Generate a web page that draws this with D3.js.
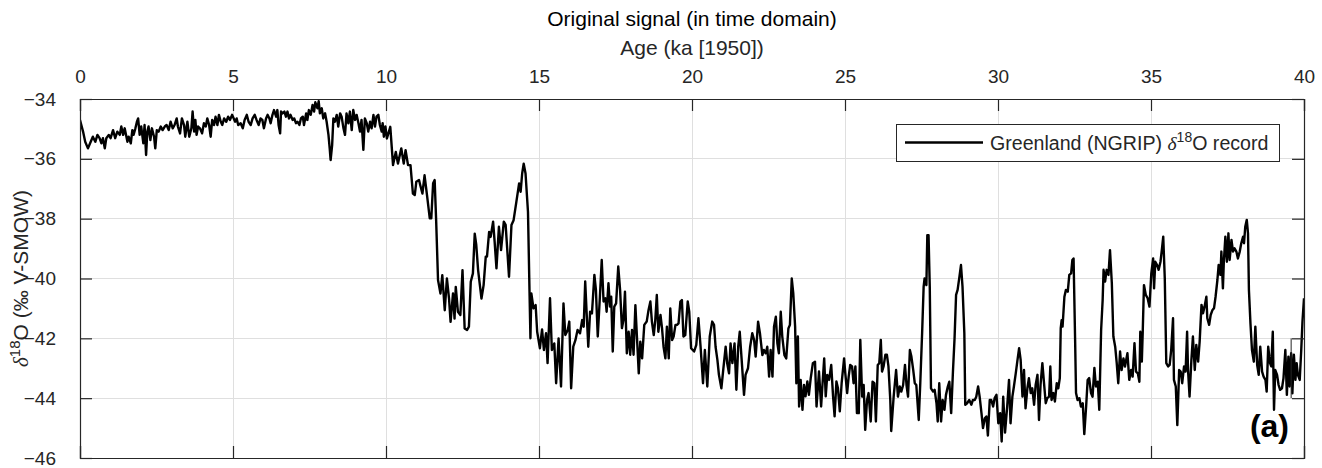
<!DOCTYPE html>
<html>
<head>
<meta charset="utf-8">
<script src="https://cdn.jsdelivr.net/npm/d3@7"></script>
<style>
  html, body { margin: 0; padding: 0; background: #fff; }
  svg { display: block; font-family: "Liberation Sans", Arial, Helvetica, sans-serif; }
</style>
</head>
<body>
<svg id="chart" width="1322" height="468"></svg>
<script>
// === 1. data ===========================================
// NGRIP δ18O, age in ka [1950]
const ageKa = [
  // 0 - 5 ka
  0.00,0.10,0.17,0.26,0.35,0.42,0.50,0.57,0.64,0.70,
  0.75,0.81,0.86,0.94,1.00,1.08,1.15,1.22,1.30,1.35,
  1.41,1.46,1.55,1.59,1.66,1.71,1.75,1.81,1.86,1.90,
  1.95,2.00,2.07,2.11,2.16,2.20,2.24,2.30,2.35,2.42,
  2.46,2.51,2.57,2.64,2.70,2.77,2.83,2.90,2.96,3.03,
  3.09,3.16,3.20,3.27,3.33,3.40,3.44,3.51,3.57,3.64,
  3.68,3.73,3.77,3.81,3.86,3.92,3.99,4.05,4.11,4.16,
  4.22,4.27,4.32,4.38,4.43,4.49,4.54,4.60,4.65,4.71,
  4.78,4.84,4.90,4.97,
  // 5 - 10 ka
  5.07,5.12,5.17,5.25,5.32,5.38,5.45,5.51,5.58,5.64,
  5.71,5.77,5.84,5.90,5.96,6.01,6.08,6.13,6.19,6.23,
  6.29,6.34,6.41,6.45,6.49,6.54,6.57,6.62,6.68,6.73,
  6.78,6.83,6.88,6.95,7.00,7.06,7.11,7.17,7.22,7.28,
  7.32,7.39,7.43,7.48,7.54,7.60,7.65,7.69,7.76,7.80,
  7.84,7.90,7.95,8.01,8.06,8.12,8.16,8.19,8.24,8.28,
  8.33,8.39,8.44,8.50,8.55,8.61,8.66,8.71,8.77,8.82,
  8.88,8.93,8.99,9.04,9.10,9.15,9.20,9.26,9.31,9.37,
  9.42,9.48,9.53,9.59,9.64,9.69,9.75,9.80,9.86,9.89,
  9.93,9.98,
  // 10 - 15 ka
  10.03,10.14,10.23,10.32,10.39,10.50,10.58,10.64,10.72,10.80,
  10.88,10.94,10.99,11.08,11.12,11.19,11.26,11.34,11.43,11.48,
  11.54,11.59,11.64,11.70,11.78,11.84,11.92,11.99,12.06,12.11,
  12.19,12.24,12.28,12.35,12.43,12.50,12.57,12.65,12.71,12.77,
  12.84,12.90,12.95,13.01,13.12,13.19,13.26,13.30,13.37,13.42,
  13.50,13.55,13.61,13.69,13.76,13.85,13.91,14.02,14.10,14.17,
  14.26,14.35,14.40,14.45,14.50,14.56,14.64,14.69,14.72,14.75,
  14.82,14.89,14.94,
  // 15 - 20 ka
  15.03,15.10,15.16,15.23,15.28,15.36,15.42,15.50,15.56,15.64,
  15.72,15.80,15.86,15.94,15.99,16.05,16.12,16.19,16.26,16.34,
  16.41,16.46,16.51,16.56,16.61,16.67,16.73,16.81,16.86,16.92,
  16.99,17.05,17.11,17.17,17.21,17.27,17.32,17.36,17.41,17.46,
  17.52,17.59,17.65,17.71,17.76,17.81,17.87,17.93,17.98,18.04,
  18.09,18.15,18.20,18.26,18.31,18.37,18.44,18.52,18.58,18.64,
  18.69,18.75,18.80,18.85,18.90,18.97,19.02,19.07,19.13,19.18,
  19.24,19.29,19.35,19.40,19.46,19.51,19.56,19.62,19.67,19.72,
  19.78,19.86,19.91,19.97,
  // 20 - 25 ka
  20.07,20.14,20.21,20.28,20.36,20.42,20.50,20.58,20.66,20.72,
  20.77,20.83,20.88,20.96,21.02,21.10,21.15,21.21,21.26,21.32,
  21.39,21.45,21.51,21.56,21.62,21.70,21.75,21.83,21.90,21.97,
  22.03,22.08,22.16,22.22,22.30,22.35,22.41,22.46,22.52,22.57,
  22.63,22.68,22.74,22.79,22.84,22.90,22.95,23.02,23.08,23.15,
  23.20,23.26,23.31,23.37,23.41,23.46,23.50,23.55,23.61,23.66,
  23.71,23.77,23.82,23.88,23.95,24.02,24.07,24.15,24.22,24.26,
  24.32,24.37,24.42,24.48,24.55,24.61,24.66,24.72,24.77,24.83,
  24.89,24.97,
  // 25 - 30 ka
  25.01,25.07,25.12,25.17,25.23,25.28,25.34,25.39,25.45,25.50,
  25.56,25.61,25.66,25.72,25.77,25.84,25.90,25.96,26.01,26.07,
  26.12,26.17,26.21,26.26,26.32,26.37,26.42,26.48,26.51,26.59,
  26.67,26.73,26.79,26.84,26.90,26.96,27.01,27.06,27.12,27.17,
  27.23,27.28,27.33,27.41,27.46,27.52,27.57,27.60,27.66,27.69,
  27.73,27.77,27.81,27.88,27.93,27.99,28.03,28.08,28.14,28.19,
  28.25,28.30,28.36,28.41,28.47,28.53,28.58,28.63,28.68,28.74,
  28.79,28.84,28.90,28.93,28.99,29.06,29.13,29.18,29.24,29.29,
  29.35,29.40,29.46,29.51,29.57,29.62,29.67,29.73,29.78,29.84,
  29.89,29.95,
  // 30 - 35 ka
  30.01,30.07,30.12,30.17,30.23,30.30,30.36,30.41,30.47,30.52,
  30.58,30.63,30.69,30.74,30.80,30.85,30.90,30.96,31.01,31.07,
  31.12,31.18,31.23,31.29,31.34,31.39,31.45,31.50,31.56,31.61,
  31.67,31.71,31.75,31.81,31.86,31.92,31.97,32.02,32.05,32.08,
  32.11,32.17,32.22,32.28,32.33,32.39,32.43,32.47,32.52,32.55,
  32.60,32.66,32.71,32.77,32.82,32.88,32.93,32.98,33.04,33.09,
  33.15,33.20,33.26,33.31,33.37,33.42,33.45,33.50,33.55,33.61,
  33.66,33.72,33.77,33.83,33.88,33.93,33.99,34.04,34.10,34.15,
  34.23,34.29,34.35,34.40,34.46,34.51,34.57,34.62,34.65,34.70,
  34.73,34.77,34.83,34.89,34.95,
  // 35 - 40 ka
  35.01,35.07,35.10,35.14,35.20,35.25,35.31,35.36,35.40,35.45,
  35.50,35.56,35.61,35.66,35.72,35.75,35.81,35.86,35.92,35.97,
  36.02,36.08,36.13,36.18,36.21,36.26,36.32,36.37,36.43,36.48,
  36.54,36.59,36.65,36.70,36.75,36.81,36.84,36.90,36.95,37.01,
  37.06,37.11,37.17,37.21,37.27,37.30,37.35,37.38,37.43,37.48,
  37.53,37.57,37.63,37.68,37.73,37.79,37.84,37.90,37.95,38.01,
  38.04,38.08,38.13,38.17,38.20,38.25,38.30,38.36,38.41,38.47,
  38.52,38.57,38.63,38.68,38.74,38.78,38.83,38.89,38.93,38.98,
  39.02,39.06,39.12,39.17,39.22,39.28,39.33,39.39,39.44,39.49,
  39.53,39.58,39.62,39.67,39.72,39.76,39.80,39.86,39.91,39.95,
  40.00
];

const d18O = [
  // 0 - 5 ka
  -34.70,-35.09,-35.43,-35.65,-35.43,-35.26,-35.43,-35.20,-35.31,-35.48,
  -35.31,-35.65,-35.31,-35.20,-35.31,-35.04,-35.31,-35.09,-35.20,-34.92,
  -35.20,-34.98,-35.43,-35.26,-35.48,-35.04,-35.20,-34.98,-34.76,-34.65,
  -35.20,-34.92,-35.48,-34.87,-35.87,-35.09,-34.92,-35.37,-34.98,-35.26,
  -35.65,-35.04,-35.09,-34.92,-35.04,-34.92,-34.87,-35.04,-34.76,-34.98,
  -34.87,-34.65,-34.92,-35.15,-34.65,-34.87,-35.26,-34.76,-35.26,-34.98,
  -34.42,-35.09,-34.70,-35.20,-34.92,-34.98,-35.15,-34.81,-34.92,-34.65,
  -34.87,-35.26,-34.70,-34.87,-34.59,-34.87,-34.53,-34.76,-34.87,-34.65,
  -34.76,-34.59,-34.70,-34.53,
  // 5 - 10 ka
  -34.76,-34.65,-34.87,-34.81,-34.98,-34.70,-34.53,-34.76,-34.87,-34.65,
  -34.53,-34.70,-34.87,-34.65,-34.70,-34.98,-34.65,-34.53,-34.65,-34.81,
  -34.53,-34.37,-34.59,-34.37,-34.87,-35.15,-34.42,-34.48,-34.42,-34.59,
  -34.42,-34.65,-34.53,-34.70,-34.65,-34.81,-34.76,-34.87,-34.65,-34.59,
  -34.87,-34.48,-34.70,-34.37,-34.53,-34.20,-34.42,-34.11,-34.31,-34.07,
  -34.48,-34.31,-34.65,-34.48,-34.76,-35.20,-35.65,-36.04,-35.54,-34.65,
  -34.76,-34.53,-34.92,-34.48,-34.59,-34.98,-35.20,-34.48,-34.81,-34.42,
  -35.04,-34.37,-34.70,-34.53,-34.81,-35.09,-34.70,-35.70,-34.65,-34.81,
  -35.09,-34.76,-34.98,-34.53,-34.92,-34.59,-34.53,-34.87,-35.09,-34.81,
  -35.26,-34.92,
  // 10 - 15 ka
  -35.32,-34.93,-36.21,-35.77,-36.16,-35.65,-36.16,-35.71,-36.21,-36.21,
  -37.16,-37.21,-36.77,-36.71,-36.88,-37.16,-36.55,-37.21,-37.99,-37.99,
  -36.82,-36.71,-38.10,-40.05,-40.50,-39.89,-41.06,-40.00,-40.67,-41.45,
  -40.50,-41.34,-40.28,-41.11,-41.22,-39.72,-41.67,-41.72,-41.61,-40.11,
  -39.83,-38.50,-38.88,-39.72,-40.67,-40.22,-39.27,-39.27,-38.44,-38.61,
  -38.10,-38.77,-39.66,-38.27,-39.05,-38.10,-38.21,-39.94,-38.21,-38.05,
  -37.44,-36.82,-37.10,-36.49,-36.16,-36.49,-37.77,-40.44,-42.00,-40.50,
  -41.00,-40.89,-41.78,
  // 15 - 20 ka
  -42.33,-41.70,-42.39,-41.83,-42.83,-40.66,-42.39,-42.17,-43.50,-42.00,
  -43.61,-40.83,-41.89,-41.72,-41.44,-43.67,-42.28,-42.06,-41.72,-41.83,
  -41.39,-41.61,-40.10,-41.22,-42.28,-41.11,-41.17,-39.88,-40.38,-41.94,
  -40.61,-39.38,-40.77,-40.66,-41.11,-40.16,-40.94,-40.61,-42.44,-40.94,
  -40.83,-39.60,-40.38,-41.66,-41.39,-40.44,-42.50,-41.78,-42.55,-41.72,
  -42.55,-40.89,-41.94,-43.17,-42.11,-42.67,-41.55,-41.44,-41.05,-40.77,
  -41.44,-41.89,-41.39,-40.55,-41.78,-41.22,-41.66,-42.28,-42.67,-41.61,
  -42.67,-41.00,-42.06,-41.94,-41.55,-41.55,-41.50,-40.77,-40.72,-41.94,
  -41.89,-40.77,-41.11,-42.33,
  // 20 - 25 ka
  -42.44,-42.22,-41.33,-42.28,-43.50,-42.39,-43.61,-41.94,-41.44,-41.55,
  -42.28,-42.72,-43.22,-43.67,-43.06,-42.28,-42.83,-43.17,-42.17,-42.83,
  -42.17,-43.72,-42.28,-41.78,-42.67,-43.89,-43.22,-43.00,-42.28,-41.83,
  -42.06,-42.61,-41.44,-41.83,-42.56,-42.39,-42.50,-42.28,-43.28,-42.39,
  -43.28,-41.61,-41.28,-42.17,-42.50,-41.11,-41.94,-42.56,-42.67,-41.67,
  -41.55,-40.00,-40.50,-41.61,-43.50,-41.94,-44.28,-43.39,-44.39,-43.56,
  -43.94,-43.44,-43.89,-43.33,-42.83,-42.78,-44.28,-43.11,-44.28,-43.61,
  -42.67,-43.94,-43.22,-43.39,-42.89,-43.94,-44.61,-43.44,-43.67,-44.44,
  -43.50,-42.67,
  // 25 - 30 ka
  -43.17,-43.83,-43.28,-42.89,-42.94,-43.50,-42.94,-44.50,-44.50,-42.05,
  -43.95,-43.56,-45.06,-44.06,-43.83,-44.78,-43.45,-43.50,-44.78,-42.89,
  -42.83,-42.05,-43.11,-42.94,-42.55,-42.55,-42.94,-44.06,-45.10,-43.95,
  -43.06,-43.95,-43.61,-43.78,-43.56,-42.89,-43.56,-43.95,-42.39,-42.61,
  -43.06,-43.50,-43.56,-44.73,-43.50,-41.83,-40.27,-40.00,-40.22,-38.55,
  -38.55,-40.27,-43.67,-43.78,-43.72,-44.17,-44.78,-43.50,-44.78,-44.06,
  -44.39,-43.89,-43.61,-43.45,-44.50,-43.06,-42.00,-40.55,-40.38,-39.94,
  -39.55,-40.27,-41.83,-44.22,-44.17,-44.06,-44.22,-44.06,-44.06,-43.95,
  -43.61,-43.95,-44.50,-45.00,-44.67,-44.61,-45.25,-44.06,-44.06,-44.28,
  -44.00,-43.89,
  // 30 - 35 ka
  -44.84,-44.50,-45.45,-43.95,-45.15,-44.28,-43.39,-44.84,-43.95,-43.61,
  -43.17,-42.78,-42.33,-42.72,-43.95,-43.06,-44.34,-43.67,-43.33,-43.83,
  -43.67,-44.22,-43.56,-43.22,-44.73,-43.56,-42.83,-43.45,-44.17,-44.00,
  -43.95,-42.94,-44.06,-43.83,-44.11,-43.50,-43.67,-43.33,-41.66,-41.39,
  -41.61,-40.61,-40.38,-40.44,-39.88,-39.83,-39.38,-39.33,-42.05,-43.83,
  -44.06,-44.00,-44.28,-44.17,-45.20,-44.28,-43.39,-43.33,-43.83,-43.95,
  -42.99,-43.61,-43.45,-44.39,-41.72,-40.72,-39.71,-40.10,-39.71,-39.88,
  -39.05,-40.16,-41.94,-42.28,-42.83,-43.50,-42.44,-43.06,-42.67,-42.94,
  -42.50,-43.39,-43.06,-43.28,-42.16,-43.11,-43.17,-43.45,-41.78,-42.78,
  -41.78,-40.22,-40.55,-40.66,-40.94,
  // 35 - 40 ka
  -39.83,-39.33,-40.33,-39.44,-39.55,-39.71,-39.44,-38.99,-38.60,-39.99,
  -42.83,-42.94,-42.89,-42.39,-41.33,-43.39,-43.61,-44.90,-43.06,-43.11,
  -43.50,-42.94,-43.11,-41.78,-43.06,-43.95,-42.72,-41.94,-43.06,-42.22,
  -42.78,-42.11,-40.88,-41.16,-40.94,-40.61,-41.33,-41.55,-41.22,-41.05,
  -40.99,-40.61,-40.05,-39.55,-39.88,-39.10,-40.33,-39.44,-38.60,-39.44,
  -38.49,-39.38,-38.71,-39.10,-38.99,-39.10,-39.33,-39.10,-38.82,-38.60,
  -38.82,-38.27,-38.04,-38.49,-40.38,-41.50,-42.39,-42.78,-41.61,-42.89,
  -43.22,-42.28,-43.11,-43.28,-43.39,-43.78,-42.28,-42.83,-42.94,-41.78,
  -44.39,-43.06,-43.22,-43.56,-43.72,-43.67,-43.33,-42.39,-43.89,-42.61,
  -43.61,-42.50,-43.84,-42.55,-43.39,-42.83,-43.22,-43.39,-42.39,-41.44,
  -40.66
];

const xTicks = [0, 5, 10, 15, 20, 25, 30, 35, 40];
const yTicks = [-46, -44, -42, -40, -38, -36, -34];
const xDomain = [0, 40];
const yDomain = [-46, -34];
// small vertical stub seen near the right axis (age, from, to)
const stub = [39.58, -42, -44];

const titleText  = 'Original signal (in time domain)';
const xLabelText = 'Age (ka [1950])';
const panelText  = '(a)';

// === 2. layout ========================================
const W = 1322, H = 468;
const plot = { left: 80, right: 1304, top: 99, bottom: 458 };
const tickLen = 12;
const axisColor = '#262626';
const gridColor = '#dfdfdf';

const svg = d3.select('#chart');
svg.append('rect').attr('width', W).attr('height', H).attr('fill', '#fff');

const x = d3.scaleLinear().domain(xDomain).range([plot.left, plot.right]);
const y = d3.scaleLinear().domain(yDomain).range([plot.bottom, plot.top]);

// === 3. grid ==========================================
const grid = svg.append('g');
grid.selectAll('line.gx')
  .data(xTicks.slice(1, -1))
  .join('line')
  .attr('x1', d => x(d)).attr('x2', d => x(d))
  .attr('y1', plot.top).attr('y2', plot.bottom)
  .attr('stroke', gridColor).attr('stroke-width', 1)
  .attr('shape-rendering', 'crispEdges');
grid.selectAll('line.gy')
  .data(yTicks.slice(1, -1))
  .join('line')
  .attr('x1', plot.left).attr('x2', plot.right)
  .attr('y1', d => y(d)).attr('y2', d => y(d))
  .attr('stroke', gridColor).attr('stroke-width', 1)
  .attr('shape-rendering', 'crispEdges');

// === 4. the record ====================================
svg.append('clipPath').attr('id', 'clip')
  .append('rect')
  .attr('x', plot.left).attr('y', plot.top)
  .attr('width', plot.right - plot.left)
  .attr('height', plot.bottom - plot.top);

const series = d3.zip(ageKa, d18O);
const line = d3.line().x(d => x(d[0])).y(d => y(d[1]));

svg.append('path')
  .datum(series)
  .attr('clip-path', 'url(#clip)')
  .attr('fill', 'none')
  .attr('stroke', '#000')
  .attr('stroke-width', 2.4)
  .attr('stroke-linejoin', 'round')
  .attr('d', line);

// === 5. axes (box, ticks inside on all sides) =========
const fmt = d3.format('d');

const axTop = svg.append('g')
  .attr('transform', `translate(0,${plot.top})`)
  .call(d3.axisTop(x).tickValues(xTicks).tickSize(-tickLen).tickPadding(tickLen + 4).tickFormat(fmt));
const axBottom = svg.append('g')
  .attr('transform', `translate(0,${plot.bottom})`)
  .call(d3.axisBottom(x).tickValues(xTicks).tickSize(-tickLen).tickFormat(''));
const axLeft = svg.append('g')
  .attr('transform', `translate(${plot.left},0)`)
  .call(d3.axisLeft(y).tickValues(yTicks).tickSize(-tickLen).tickPadding(tickLen + 12).tickFormat(fmt));
const axRight = svg.append('g')
  .attr('transform', `translate(${plot.right},0)`)
  .call(d3.axisRight(y).tickValues(yTicks).tickSize(-tickLen).tickFormat(''));

[axTop, axBottom, axLeft, axRight].forEach(ax => {
  ax.select('.domain').attr('stroke', axisColor).attr('stroke-width', 1.2);
  ax.selectAll('.tick line').attr('stroke', axisColor).attr('stroke-width', 1.2);
  ax.selectAll('.tick text')
    .attr('fill', axisColor)
    .style('font-size', '19px')
    .style('font-family', '"Liberation Sans", Arial, sans-serif');
});

svg.append('line')
  .attr('x1', x(stub[0])).attr('x2', x(stub[0]))
  .attr('y1', y(stub[1])).attr('y2', y(stub[2]))
  .attr('stroke', axisColor).attr('stroke-width', 1);

// === 6. titles ========================================
svg.append('text')
  .attr('x', (plot.left + plot.right) / 2).attr('y', 26)
  .attr('text-anchor', 'middle')
  .attr('fill', '#000')
  .style('font-size', '21px')
  .text(titleText);

svg.append('text')
  .attr('x', (plot.left + plot.right) / 2).attr('y', 55)
  .attr('text-anchor', 'middle')
  .attr('fill', axisColor)
  .style('font-size', '21px')
  .text(xLabelText);

// y label: δ^18O (‰ V-SMOW)
const yl = svg.append('text')
  .attr('transform', `translate(28,${(plot.top + plot.bottom) / 2}) rotate(-90)`)
  .attr('text-anchor', 'middle')
  .attr('fill', axisColor)
  .style('font-size', '21px');
yl.append('tspan').style('font-family', '"Liberation Serif", "DejaVu Serif", serif').style('font-style', 'italic').text('δ');
yl.append('tspan').attr('dy', -8).style('font-size', '15px').text('18');
yl.append('tspan').attr('dy', 8).text('O (‰ V-SMOW)');

// === 7. legend ========================================
const lg = svg.append('g');
lg.append('rect')
  .attr('x', 896.5).attr('y', 124.5).attr('width', 383).attr('height', 37)
  .attr('fill', '#fff').attr('stroke', axisColor).attr('stroke-width', 1);
lg.append('line')
  .attr('x1', 905).attr('x2', 983).attr('y1', 142.5).attr('y2', 142.5)
  .attr('stroke', '#000').attr('stroke-width', 2.4);
const lt = lg.append('text')
  .attr('x', 990).attr('y', 150)
  .attr('fill', axisColor)
  .style('font-size', '19.6px');
lt.append('tspan').text('Greenland (NGRIP) ');
lt.append('tspan').style('font-family', '"Liberation Serif", "DejaVu Serif", serif').style('font-style', 'italic').text('δ');
lt.append('tspan').attr('dy', -8).style('font-size', '14px').text('18');
lt.append('tspan').attr('dy', 8).text('O record');

// === 8. panel tag =====================================
svg.append('text')
  .attr('x', 1289).attr('y', 437)
  .attr('text-anchor', 'end')
  .attr('fill', '#000')
  .style('font-size', '32px')
  .style('font-weight', 'bold')
  .text(panelText);
</script>
</body>
</html>
